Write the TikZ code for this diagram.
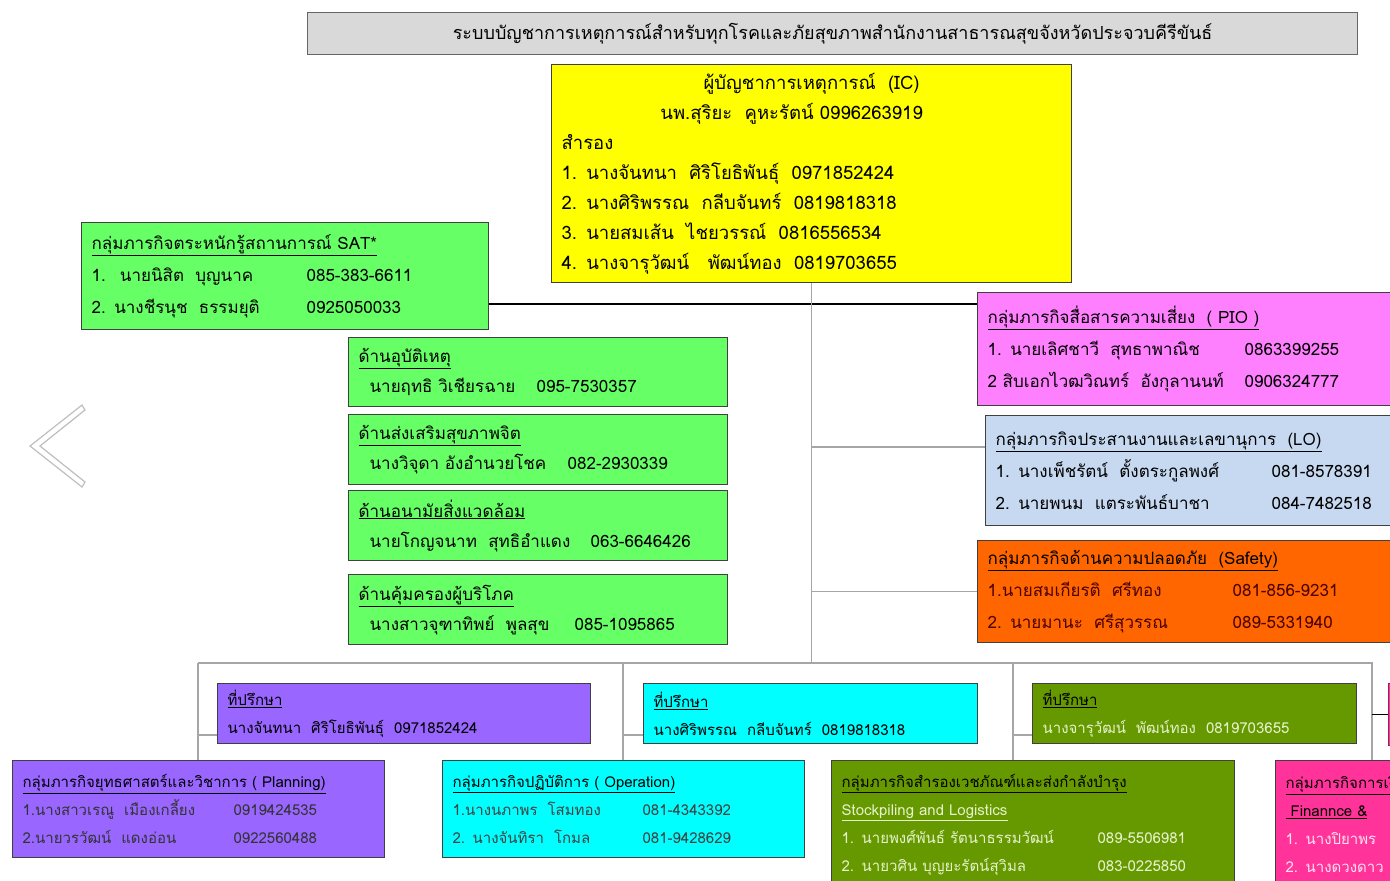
\documentclass[tikz,border=0pt]{standalone}
\usepackage{fontspec}
\usepackage{tikz}
\usetikzlibrary{positioning}
\newfontfamily\thaifont[Script=Thai]{Loma}
\newcommand{\tabto}[2]{\makebox[#1][l]{#2}}

\definecolor{titlegray}{HTML}{D9D9D9}
\definecolor{icyellow}{HTML}{FFFF00}
\definecolor{satgreen}{HTML}{66FF66}
\definecolor{piopink}{HTML}{FF80FF}
\definecolor{loblue}{HTML}{C6D9F1}
\definecolor{safeorange}{HTML}{FF6600}
\definecolor{advpurple}{HTML}{9966FF}
\definecolor{advcyan}{HTML}{00FFFF}
\definecolor{advolive}{HTML}{669900}
\definecolor{finpink}{HTML}{FF3399}
\definecolor{paletext}{HTML}{E6F2CC}

\begin{document}
\begin{tikzpicture}[
      x=1pt, y=-1pt,
      box/.style={
        draw=black!75, line width=1.2pt, anchor=north west,
        align=left, inner xsep=10pt, inner ysep=3pt
      },
      bigtext/.style={font=\thaifont\fontsize{18.5}{30}\selectfont},
      midtext/.style={font=\thaifont\fontsize{17}{32}\selectfont},
      subtext/.style={font=\thaifont\fontsize{17}{30}\selectfont},
      smalltext/.style={font=\thaifont\fontsize{15}{28}\selectfont},
      link/.style={draw=black!35, line width=1.5pt}
    ]
    \useasboundingbox (0,0) rectangle (1390,881);
    \clip (0,0) rectangle (1390,881);

    % Top
    \node (title) [box, fill=titlegray, draw=black!60, align=center,
      text width=1030pt, minimum height=42pt,
      font=\thaifont\fontsize{18}{20}\selectfont] at (307,12)
      {ระบบบัญชาการเหตุการณ์สำหรับทุกโรคและภัยสุขภาพสำนักงานสาธารณสุขจังหวัดประจวบคีรีขันธ์};
    \node (ic) [box, fill=icyellow, bigtext, text width=500pt,
      minimum height=218pt] at (551,64)
      {\makebox[500pt][c]{ผู้บัญชาการเหตุการณ์ \ (IC)}\\
       \makebox[460pt][c]{นพ.สุริยะ \ คูหะรัตน์ 0996263919}\\
       สำรอง\\
       1. นางจันทนา \ ศิริโยธิพันธุ์ \ 0971852424\\
       2. นางศิริพรรณ \ กลีบจันทร์ \ 0819818318\\
       3. นายสมเส้น \ ไชยวรรณ์ \ 0816556534\\
       4. นางจารุวัฒน์ \ \ พัฒน์ทอง \ 0819703655};

    % Left column
    \node (sat) [box, fill=satgreen, midtext, text width=387pt,
      minimum height=107pt] at (81,222)
      {\underline{กลุ่มภารกิจตระหนักรู้สถานการณ์ SAT*}\\
       \tabto{215pt}{1. \ นายนิสิต \ บุญนาค}085-383-6611\\
       \tabto{215pt}{2. นางชีรนุช \ ธรรมยุติ}0925050033};
    \node (acc) [box, fill=satgreen, subtext, text width=359pt,
      minimum height=69pt] at (348,337)
      {\underline{ด้านอุบัติเหตุ}\\
       \hspace*{11pt}\tabto{167pt}{นายฤทธิ วิเชียรฉาย}095-7530357};
    \node (mh) [box, fill=satgreen, subtext, text width=359pt,
      minimum height=70pt] at (348,414)
      {\underline{ด้านส่งเสริมสุขภาพจิต}\\
       \hspace*{11pt}\tabto{198pt}{นางวิจุดา อังอำนวยโชค}082-2930339};
    \node (env) [box, fill=satgreen, subtext, text width=359pt,
      minimum height=70pt] at (348,490)
      {\underline{ด้านอนามัยสิ่งแวดล้อม}\\
       \hspace*{11pt}\tabto{221pt}{นายโกญจนาท \ สุทธิอำแดง}063-6646426};
    \node (cons) [box, fill=satgreen, subtext, text width=359pt,
      minimum height=70pt] at (348,574)
      {\underline{ด้านคุ้มครองผู้บริโภค}\\
       \hspace*{11pt}\tabto{205pt}{นางสาวจุฑาทิพย์ \ พูลสุข}085-1095865};

    % Right column
    \node (pio) [box, fill=piopink, midtext, text width=420pt,
      minimum height=113pt] at (977,292)
      {\underline{กลุ่มภารกิจสื่อสารความเสี่ยง \ ( PIO )}\\
       \tabto{257pt}{1. นายเลิศชาวี \ สุทธาพาณิช}0863399255\\
       \tabto{257pt}{2 สิบเอกไวฒวิณทร์ \ อังกุลานนท์}0906324777};
    \node (lo) [box, fill=loblue, midtext, text width=420pt,
      minimum height=110pt] at (985,415)
      {\underline{กลุ่มภารกิจประสานงานและเลขานุการ \ (LO)}\\
       \tabto{276pt}{1. นางเพ็ชรัตน์ \ ตั้งตระกูลพงศ์}081-8578391\\
       \tabto{276pt}{2. นายพนม \ แตระพันธ์บาชา}084-7482518};
    \node (safe) [box, fill=safeorange, midtext, text width=420pt,
      minimum height=102pt] at (977,540)
      {\underline{กลุ่มภารกิจด้านความปลอดภัย \ (Safety)}\\
       \textcolor{black!70!red}{\tabto{245pt}{1.นายสมเกียรติ \ ศรีทอง}081-856-9231}\\
       \textcolor{black!70!red}{\tabto{245pt}{2. นายมานะ \ ศรีสุวรรณ}089-5331940}};

    % Advisors
    \node (adv1) [box, fill=advpurple, smalltext, text width=353pt,
      minimum height=60pt] at (217,683)
      {\underline{ที่ปรึกษา}\\
       นางจันทนา \ ศิริโยธิพันธุ์ \ 0971852424};
    \node (adv2) [box, fill=advcyan, smalltext, text width=314pt,
      minimum height=60pt] at (643,683)
      {\underline{ที่ปรึกษา}\\
       นางศิริพรรณ \ กลีบจันทร์ \ 0819818318};
    \node (adv3) [box, fill=advolive, smalltext, text width=304pt,
      minimum height=60pt] at (1032,683)
      {\underline{ที่ปรึกษา}\\
       \textcolor{paletext}{นางจารุวัฒน์ \ พัฒน์ทอง \ 0819703655}};
    \node (adv4) [box, fill=finpink, draw=finpink!60!black, smalltext,
      text width=40pt, minimum height=62pt] at (1388,683) {};

    % Bottom row
    \node (plan) [box, fill=advpurple, smalltext, text width=352pt,
      minimum height=97pt] at (12,760)
      {\underline{กลุ่มภารกิจยุทธศาสตร์และวิชาการ ( Planning)}\\
       \textcolor{black!80}{\tabto{211pt}{1.นางสาวเรณู \ เมืองเกลี้ยง}0919424535}\\
       \textcolor{black!80}{\tabto{211pt}{2.นายวรวัฒน์ \ แดงอ่อน}0922560488}};
    \node (oper) [box, fill=advcyan, smalltext, text width=342pt,
      minimum height=97pt] at (442,760)
      {\underline{กลุ่มภารกิจปฏิบัติการ ( Operation)}\\
       \textcolor{black!75}{\tabto{190pt}{1.นางนภาพร \ โสมทอง}081-4343392}\\
       \textcolor{black!75}{\tabto{190pt}{2. นางจันทิรา \ โกมล}081-9428629}};
    \node (logi) [box, fill=advolive, smalltext, text width=383pt,
      minimum height=128pt] at (831,760)
      {\underline{กลุ่มภารกิจสำรองเวชภัณฑ์และส่งกำลังบำรุง}\\
       \textcolor{paletext}{\underline{Stockpiling and Logistics}}\\
       \textcolor{paletext}{\tabto{256pt}{1. นายพงศ์พันธ์ รัตนาธรรมวัฒน์}089-5506981}\\
       \textcolor{paletext}{\tabto{256pt}{2. นายวศิน บุญยะรัตน์สุวิมล}083-0225850}};
    \node (fin) [box, fill=finpink, smalltext, text width=200pt,
      minimum height=128pt] at (1275,760)
      {\underline{กลุ่มภารกิจการเงิน}\\
       \underline{\ Finannce \&}\\
       \textcolor{white!85!finpink}{1. นางปิยาพร}\\
       \textcolor{white!85!finpink}{2. นางดวงดาว}};

    % Connectors
    \coordinate (satline) at (0,304);
    \coordinate (bus) at (0,663);
    \coordinate (advline) at (0,735);
    \draw[line width=1.5pt] (sat.east |- satline) -- (pio.west |- satline);
    \draw[link] (ic.south) -- (ic.south |- bus);
    \draw[link] (ic.south |- lo.north) ++(0,32) -- ([yshift=-32pt]lo.north west);
    \draw[link] (ic.south |- safe.west) -- (safe.west);
    \path (plan.north -| adv1.west) ++(-19,0) coordinate (b1);
    \path (adv2.west |- bus) ++(-20,0) coordinate (b2);
    \path (adv3.west |- bus) ++(-19,0) coordinate (b3);
    \coordinate (b4) at (1372,663);
    \draw[link] (b1 |- bus) -- (b4) -- (b4 |- fin.north);
    \draw[link] (b1 |- bus) -- (b1 |- plan.north);
    \draw[link] (b2 |- bus) -- (b2 |- oper.north);
    \draw[link] (b3 |- bus) -- (b3 |- logi.north);
    \draw[link] (b1 |- advline) -- (adv1.west |- advline);
    \draw[link] (b2 |- advline) -- (adv2.west |- advline);
    \draw[link] (b3 |- advline) -- (adv3.west |- advline);
    \draw[line width=1.5pt] (b4 |- adv4.west) -- (adv4.west);

    % Back arrow
    \draw[draw=black!25, fill=white, line width=1.2pt]
      (82,405) -- (30,446) -- (82,487) -- (85,482) -- (40,446) -- (85,410) -- cycle;
\end{tikzpicture}
\end{document}
